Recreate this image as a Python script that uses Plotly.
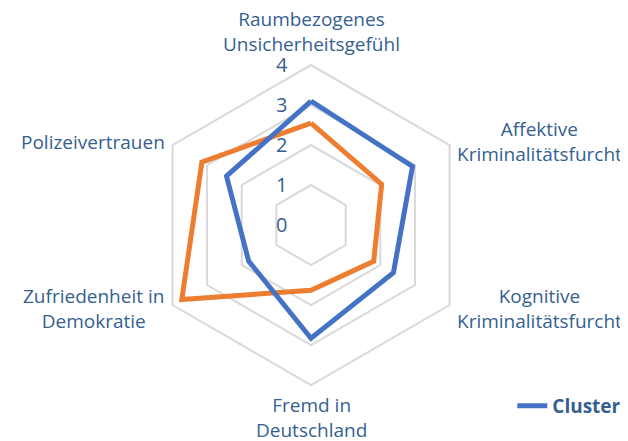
import plotly.graph_objects as go

categories = [
    "Raumbezogenes<br>Unsicherheitsgefühl",
    "Affektive<br>Kriminalitätsfurcht",
    "Kognitive<br>Kriminalitätsfurcht",
    "Fremd in<br>Deutschland",
    "Zufriedenheit in<br>Demokratie",
    "Polizeivertrauen",
]
cluster_blue = [3.1, 2.93, 2.38, 2.83, 1.8, 2.44]
cluster_orange = [2.55, 2.04, 1.81, 1.63, 3.73, 3.15]
radial_ticks = [0, 1, 2, 3, 4]

# where the category labels sit (paper coords), centred like the original
label_x = [0.484, 0.847, 0.847, 0.4825, 0.1354, 0.1354]
label_y = [0.9456, 0.698, 0.3175, 0.0703, 0.3175, 0.696]

text_color = "#365F91"
font_family = "Open Sans, Noto Sans, sans-serif"


def closed(values):
    return values + values[:1]


fig = go.Figure()

fig.add_trace(
    go.Scatterpolar(
        r=closed(cluster_orange),
        theta=closed(categories),
        mode="lines",
        line=dict(color="#ED7D31", width=5),
        name="Cluster 2",
        showlegend=False,
    )
)
fig.add_trace(
    go.Scatterpolar(
        r=closed(cluster_blue),
        theta=closed(categories),
        mode="lines",
        line=dict(color="#4472C4", width=5),
        name="<b>Cluster</b>",
    )
)

for text, x, y in zip(categories, label_x, label_y):
    fig.add_annotation(
        text=text,
        x=x,
        y=y,
        xref="paper",
        yref="paper",
        showarrow=False,
        align="center",
        xanchor="center",
        yanchor="middle",
        font=dict(size=19, color=text_color),
    )

fig.update_layout(
    width=628,
    height=441,
    margin=dict(l=0, r=0, t=0, b=0),
    paper_bgcolor="white",
    font=dict(family=font_family, color=text_color, size=17),
    polar=dict(
        domain=dict(x=[0.2277, 0.7373], y=[0.1451, 0.8707]),
        bgcolor="white",
        gridshape="linear",
        angularaxis=dict(
            direction="clockwise",
            rotation=90,
            showgrid=False,
            showline=True,
            linecolor="#D9D9D9",
            linewidth=2,
            ticks="",
            showticklabels=False,
        ),
        radialaxis=dict(
            range=[0, 4],
            tickvals=radial_ticks,
            angle=90,
            tickangle=90,
            showline=False,
            ticks="outside",
            ticklen=16,
            tickcolor="rgba(0,0,0,0)",
            gridcolor="#D9D9D9",
            gridwidth=2,
            tickfont=dict(size=20, color=text_color),
            side="counterclockwise",
        ),
    ),
    legend=dict(
        x=0.803,
        y=0.098,
        xanchor="left",
        yanchor="middle",
        font=dict(size=19, color=text_color),
        bgcolor="rgba(0,0,0,0)",
    ),
)

fig.write_html("out.html")
